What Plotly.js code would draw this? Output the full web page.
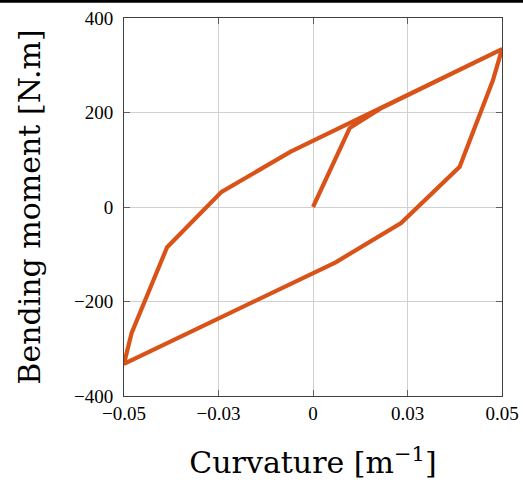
<!DOCTYPE html>
<html>
<head>
<meta charset="utf-8">
<script src="https://cdn.plot.ly/plotly-3.0.1.min.js"></script>
<style>html,body{margin:0;padding:0;background:#fff;}#plot{width:523px;height:483px;}</style>
</head>
<body>
<div id="plot"></div>
<script>
// Hysteresis loop: curvature [1/m] vs bending moment [N.m]
const curvature = [0, 0.0097, 0.0178, 0.05, 0.0476, 0.0388, 0.0233, 0.006, -0.05, -0.048, -0.0386, -0.0242, -0.0059, 0.05];
const moment    = [0, 167, 208, 334, 268, 85, -34, -117, -332, -267, -85, 32, 117, 334];
const xTickVals = [-0.05, -0.025, 0, 0.025, 0.05];
const xTickText = ['\u22120.05', '\u22120.03', '0', '0.03', '0.05'];
const yTickVals = [-400, -200, 0, 200, 400];
const yTickText = ['\u2212400', '\u2212200', '0', '200', '400'];

const serif = 'Liberation Serif, DejaVu Serif, serif';
const titleSerif = 'DejaVu Serif, Liberation Serif, serif';

const trace = {
  x: curvature, y: moment, type: 'scatter', mode: 'lines',
  line: {color: '#D95319', width: 4.2}, hoverinfo: 'skip'
};

const axisCommon = {
  showline: true, linecolor: '#404040', linewidth: 1, mirror: 'ticks',
  ticks: 'inside', ticklen: 6, tickcolor: '#606060', tickwidth: 1,
  showgrid: true, gridcolor: '#d0d0d0', gridwidth: 1, zeroline: false,
  tickfont: {family: serif, size: 19, color: '#000'}
};

const layout = {
  width: 523, height: 483,
  margin: {l: 124, r: 21, t: 18, b: 87},
  paper_bgcolor: '#fff', plot_bgcolor: '#fff',
  showlegend: false,
  xaxis: Object.assign({}, axisCommon, {
    range: [-0.05, 0.05], tickmode: 'array', tickvals: xTickVals, ticktext: xTickText,
    title: {text: 'Curvature [m<sup>\u22121</sup>]', font: {family: titleSerif, size: 30, color: '#000'}, standoff: 29}
  }),
  yaxis: Object.assign({}, axisCommon, {
    range: [-400, 400], tickmode: 'array', tickvals: yTickVals, ticktext: yTickText,
    ticklabelstandoff: 6,
    title: {text: 'Bending moment [N.m]', font: {family: titleSerif, size: 30, color: '#000'}, standoff: 24}
  }),
  shapes: [{type: 'line', xref: 'paper', yref: 'paper', x0: -0.5, x1: 1.5, y0: 1.044, y1: 1.044,
            line: {color: '#000', width: 3}}]
};

Plotly.newPlot('plot', [trace], layout, {staticPlot: true, displayModeBar: false});
</script>
</body>
</html>
